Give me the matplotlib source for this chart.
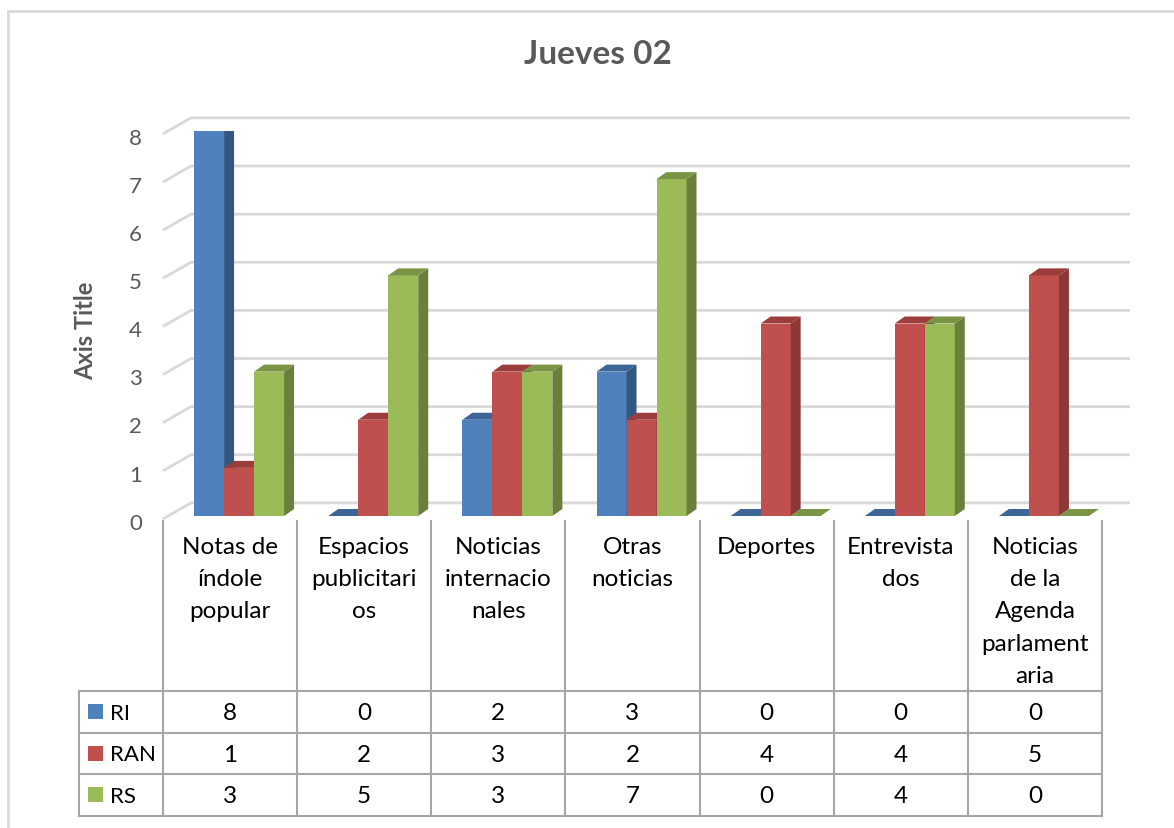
import matplotlib
matplotlib.use("Agg")
import matplotlib.pyplot as plt
from matplotlib.patches import Polygon
from matplotlib.lines import Line2D
import matplotlib.transforms as mtrans

plt.rcParams['font.family'] = ['Lato', 'DejaVu Sans']

# ---------------- data ----------------
title = "Jueves 02"
y_title = "Axis Title"
categories = ["Notas de\níndole\npopular", "Espacios\npublicitari\nos", "Noticias\ninternacio\nnales",
              "Otras\nnoticias", "Deportes", "Entrevista\ndos", "Noticias\nde la\nAgenda\nparlament\naria"]
series_names = ["RI", "RAN", "RS"]
ri = [8, 0, 2, 3, 0, 0, 0]
ran = [1, 2, 3, 2, 4, 4, 5]
rs = [3, 5, 3, 7, 0, 4, 0]
series_values = [ri, ran, rs]
yticks = [0, 1, 2, 3, 4, 5, 6, 7, 8]

front_colors = ["#4F81BD", "#C0504D", "#9BBB59"]
side_colors = ["#34577F", "#8C3836", "#6A7F3C"]
top_colors = ["#3D6696", "#9A3D3B", "#7A9446"]

W, H = 1174, 829
fig = plt.figure(figsize=(W / 100, H / 100), dpi=100)

def fx(px):
    return px / W

def fy(py):
    return 1 - py / H

# axes: x in [-0.5, 6.5] -> px 163..1102 ; y in [0, 8] -> px 517..132
ax_left, ax_right = 163, 1102
ax_bot, ax_top = 517, 132
ax = fig.add_axes([fx(ax_left), fy(ax_bot), fx(ax_right) - fx(ax_left), fy(ax_top) - fy(ax_bot)])
ax.set_xlim(-0.5, 6.5)
ax.set_ylim(0, 8)
ax.axis('off')

px_per_x = (ax_right - ax_left) / 7.0
px_per_y = (ax_bot - ax_top) / 8.0

# wall depth offsets (data units)
wdx = 28 / px_per_x
wdy = 16 / px_per_y
# bar depth offsets
bdx = 10 / px_per_x
bdy = 7 / px_per_y
bw = 30 / px_per_x
group_shift = -36 / px_per_x  # left edge of first bar relative to category center

# gridlines
grid_c = "#D9D9D9"
for v in yticks:
    x0 = -0.5
    ax.plot([x0, x0 + wdx, 6.5 + wdx], [v - 0.06, v - 0.06 + wdy, v - 0.06 + wdy],
            color=grid_c, lw=2.0, clip_on=False, zorder=1, solid_capstyle='butt')
    ax.text(-0.5 - 21 / px_per_x, v - 0.14, str(v), ha='right', va='center',
            fontsize=16, color="#595959")

# bars
n = len(categories)
for ci in range(n):
    for si, vals in enumerate(series_values):
        v = vals[ci]
        x0 = ci + group_shift + si * bw
        x1 = x0 + bw
        if v > 0:
            ax.bar(x0, v, width=bw, align='edge', color=front_colors[si], zorder=2 + si * 0.1 + ci,
                   linewidth=0)
            side = Polygon([[x1, 0], [x1 + bdx, bdy], [x1 + bdx, v + bdy], [x1, v]], closed=True,
                           facecolor=side_colors[si], edgecolor='none', zorder=2 + si * 0.1 + ci)
            ax.add_patch(side)
        top = Polygon([[x0, v], [x1, v], [x1 + bdx, v + bdy], [x0 + bdx, v + bdy]], closed=True,
                      facecolor=top_colors[si], edgecolor='none', zorder=2 + si * 0.1 + ci + 0.01)
        ax.add_patch(top)

# title and axis title
fig.text(fx(598), fy(55), title, ha='center', va='center', fontsize=24, fontweight='bold', color="#595959")
fig.text(fx(86), fy(331), y_title, ha='center', va='center', fontsize=17, fontweight='bold',
         color="#595959", rotation=90)

# border
fig.add_artist(Line2D([fx(8), fx(8)], [fy(12), fy(H + 5)], color="#D9D9D9", lw=2))
fig.add_artist(Line2D([fx(8), fx(W + 5)], [fy(12), fy(12)], color="#D9D9D9", lw=2))

# data table
tline = "#A6A6A6"
trans = mtrans.blended_transform_factory(ax.transData, fig.transFigure)
table_left_px = 79
hdr_top, row_lines = 522, [692, 733.5, 775, 816.5]
col_edges = [i - 0.5 for i in range(n + 1)]
for xe in col_edges:
    fig.add_artist(Line2D([xe, xe], [fy(hdr_top), fy(row_lines[-1])], color=tline, lw=1.5,
                          transform=trans))
left_x = -0.5 - (ax_left - table_left_px) / px_per_x
for yl in row_lines:
    fig.add_artist(Line2D([left_x, 6.5], [fy(yl), fy(yl)], color=tline, lw=1.5, transform=trans))
fig.add_artist(Line2D([left_x, left_x], [fy(row_lines[0]), fy(row_lines[-1])], color=tline, lw=1.5,
                      transform=trans))

for ci, cat in enumerate(categories):
    fig.text(ci, fy(537), cat, ha='center', va='top', fontsize=17.5, color="#000000",
             linespacing=1.66, transform=trans)

for si, (name, vals) in enumerate(zip(series_names, series_values)):
    yc = (row_lines[si] + row_lines[si + 1]) / 2
    fig.add_artist(plt.Rectangle((fx(88), fy(yc + 7.5)), fx(15), fy(0) - fy(15),
                                 facecolor=front_colors[si], edgecolor='none', transform=fig.transFigure))
    fig.text(fx(110), fy(yc + 1), name, ha='left', va='center', fontsize=16, color="#000000")
    for ci, v in enumerate(vals):
        fig.text(ci, fy(yc + 1), str(v), ha='center', va='center', fontsize=17.5, color="#000000",
                 transform=trans)

fig.savefig("out.png", dpi=100, facecolor="white")
